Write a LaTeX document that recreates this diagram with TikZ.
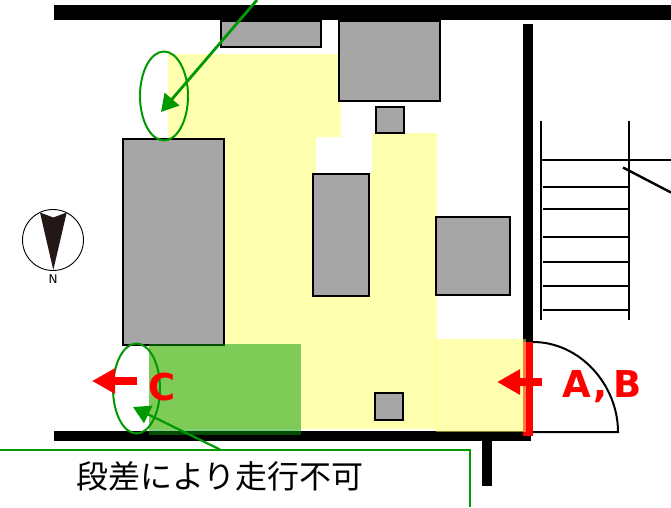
\documentclass[tikz,border=0pt]{standalone}
\usepackage{fontspec}
\usepackage{tikz}
\usetikzlibrary{arrows.meta, positioning, shapes.geometric}
\newfontfamily\jpfont{Noto Sans CJK JP}
\newfontfamily\signfont{DejaVu Sans}
\definecolor{walkyellow}{HTML}{FFFFB0}
\definecolor{entryyellow}{HTML}{FFFF60}
\definecolor{notegreen}{HTML}{009900}
\definecolor{shelfgray}{HTML}{A6A6A6}
\definecolor{needle}{HTML}{231815}
\tikzset{
    shelf/.style={draw, rectangle, fill=shelfgray, line width=2pt, inner sep=0pt},
    wall/.style={fill=black, draw=none},
    stairline/.style={draw=black, line width=2pt},
    noteloop/.style={draw=notegreen, ellipse, line width=2pt, inner sep=0pt},
    notearrow/.style={draw=notegreen, line width=2.8pt, -{Triangle[length=17pt, width=19pt]}},
    redarrow/.style={draw=red, line width=8pt, -{Triangle[length=23pt, width=24pt]}},
    redlabel/.style={text=red, font=\signfont\bfseries\fontsize{37}{37}\selectfont, inner sep=0pt}
}
\begin{document}
\begin{tikzpicture}[x=1pt, y=-1pt]
    \useasboundingbox (0,0) rectangle (671,507);

    % walkable floor
    \fill[walkyellow] (168,54) -- (341,54) -- (341,137) -- (316,137) -- (316,173) -- (372,173) -- (372,133) -- (437,133)
        -- (437,429) -- (149,429) -- (149,345) -- (224,345) -- (224,139) -- (168,139) -- cycle;

    % walls
    \fill[wall] (54,5) rectangle (671,20);
    \fill[wall] (54,430.5) rectangle (530.5,440.5);
    \fill[wall] (523,24) rectangle (533,436);
    \fill[wall] (482,440) rectangle (492,486);

    % furniture
    \node[shelf, minimum width=100.5pt, minimum height=26pt] (shelfa) at (271,33.5) {};
    \node[shelf, minimum width=101pt, minimum height=80pt] (shelfb) at (389.5,60.5) {};
    \node[shelf, minimum width=28.5pt, minimum height=25.5pt] (shelfc) at (390,120) {};
    \node[shelf, minimum width=101pt, minimum height=206pt] (shelfd) at (173,242) {};
    \node[shelf, minimum width=56pt, minimum height=122pt] (shelfe) at (340.5,234.5) {};
    \node[shelf, minimum width=73.5pt, minimum height=78pt] (shelff) at (473,256) {};
    \node[shelf, minimum width=28.5pt, minimum height=27pt] (shelfg) at (389,406.5) {};

    % stairs
    \draw[stairline] (540.5,121) -- (540.5,320);
    \draw[stairline] (629,121) -- (629,320);
    \draw[stairline] (541,160) -- (671,160);
    \foreach \y in {186.5,209,236.5,261.5,286,310} {
        \draw[stairline] (543,\y) -- (629,\y);
    }
    \draw[line width=2.4pt] (623,167.5) -- (671,192.5);

    % door
    \coordinate (hinge) at (533,432);
    \coordinate (doorend) at (618,432);
    \coordinate (doortop) at (533,342);
    \draw[line width=2pt] (doortop) .. controls (580,342) and (618,385) .. (doorend) -- (hinge);

    % entrance and step
    \fill[red] (523,342) rectangle (532.5,436);
    \fill[entryyellow, opacity=0.5] (436,339) rectangle (526,432);
    \fill[notegreen, opacity=0.5] (149,344) rectangle (301,435);

    % compass
    \node[draw, circle, line width=0.9pt, minimum size=61pt, inner sep=0pt] (compass) at (53,240) {};
    \fill[needle] (40,212.5) -- (53.3,217.5) -- (66.7,212.5) -- (53.3,270) -- cycle;
    \node[font=\signfont\fontsize{12}{12}\selectfont, inner sep=0pt, below=3.5pt of compass] (north) {N};

    % notes
    \node[noteloop, minimum width=48pt, minimum height=89pt] (loopa) at (164,96) {};
    \node[noteloop, minimum width=47pt, minimum height=90pt] (loopb) at (136.5,388.5) {};
    \coordinate (starta) at (257,0);
    \coordinate (enda) at (161,112);
    \coordinate (startb) at (220,449.5);
    \coordinate (endb) at (133,407);
    \draw[notearrow] (starta) -- (enda);
    \draw[notearrow, line width=2.2pt] (startb) -- (endb);

    \coordinate (boxleft) at (0,450);
    \coordinate (boxcorner) at (470,450);
    \coordinate (boxbottom) at (470,507);
    \draw[draw=notegreen, line width=2pt] (boxleft) -- (boxcorner) -- (boxbottom);
    \node[font=\jpfont\fontsize{32}{32}\selectfont, inner sep=0pt] (note) at (220,476) {段差により走行不可};

    % ways in
    \coordinate (tailc) at (137,381);
    \coordinate (tipc) at (92,381);
    \coordinate (tailab) at (542,382);
    \coordinate (tipab) at (497,382);
    \draw[redarrow] (tailc) -- (tipc);
    \draw[redarrow] (tailab) -- (tipab);
    \node[redlabel] (signc) at (162,387) {C};
    \node[redlabel] (signab) at (602,387) {A\kern3pt,\kern6pt B};
\end{tikzpicture}
\end{document}
